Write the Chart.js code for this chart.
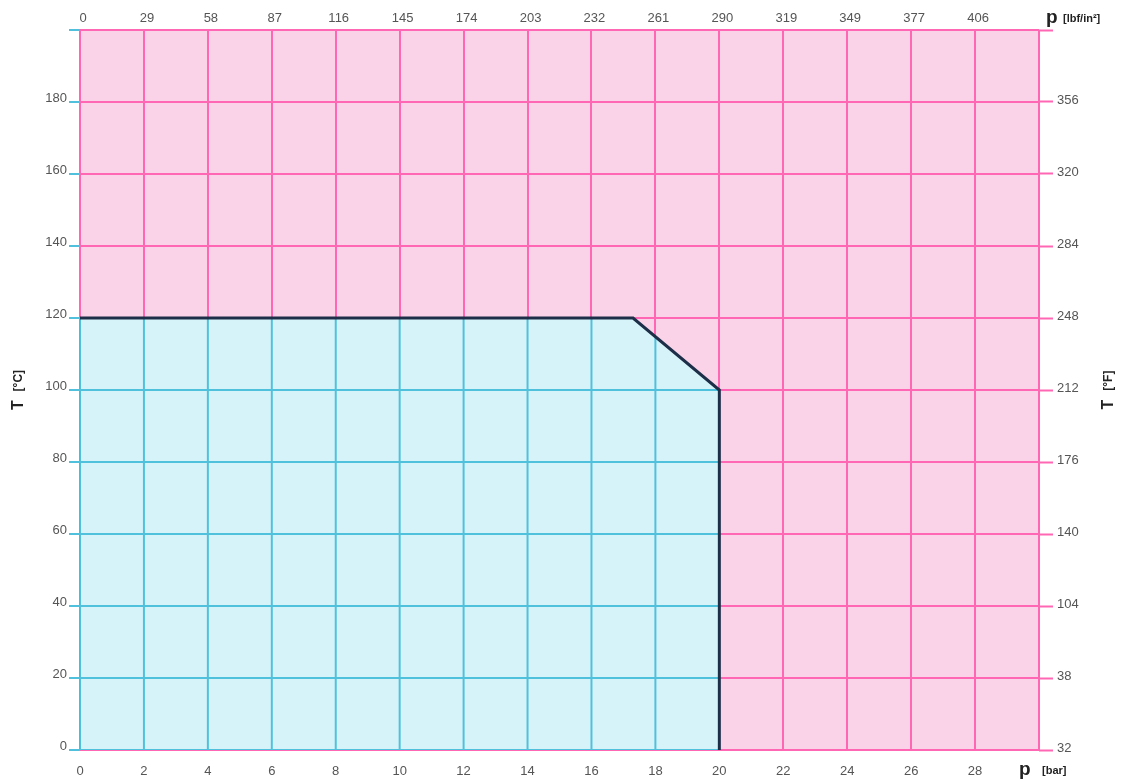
<!DOCTYPE html>
<html>
<head>
<meta charset="utf-8">
<script src="https://cdn.jsdelivr.net/npm/chart.js@4.4.1/dist/chart.umd.min.js"></script>
<style>
  html, body { margin: 0; padding: 0; background: #fff; }
  #wrap { width: 1126px; height: 780px; }
</style>
</head>
<body>
<div id="wrap"><canvas id="chart"></canvas></div>
<script>
// ---------- Data ----------
const pressureBar = [0, 17.3, 20, 20];          // boundary of operating range
const tempC       = [120, 120, 100, 0];
const psiLabels   = ['0','29','58','87','116','145','174','203','232','261','290','319','349','377','406'];
const fLabels     = ['32','38','104','140','176','212','248','284','320','356'];

const PINK_FILL = '#fad3e8', PINK_GRID = '#ff66b3';
const BLUE_FILL = '#d7f3fa', BLUE_GRID = '#4fc1dc';
const EDGE = '#1d2f48';
const FONT = "'Liberation Sans', Arial, sans-serif";

const boundary = pressureBar.map((x, i) => ({ x, y: tempC[i] }));

// pink background of the whole plot
const bgPlugin = {
  id: 'bg',
  beforeDraw(c) {
    const a = c.chartArea, ctx = c.ctx;
    ctx.save();
    ctx.fillStyle = PINK_FILL;
    ctx.fillRect(a.left, a.top, a.right - a.left, a.bottom - a.top);
    ctx.restore();
  }
};

// blue grid inside the allowed region (drawn right after the fill dataset)
const blueGrid = {
  id: 'blueGrid',
  afterDatasetDraw(c, args) {
    if (args.index !== 1) return;
    const x = c.scales.x, y = c.scales.y, ctx = c.ctx;
    ctx.save();
    ctx.beginPath();
    boundary.forEach((p, i) => {
      const px = x.getPixelForValue(p.x), py = y.getPixelForValue(p.y);
      i ? ctx.lineTo(px, py) : ctx.moveTo(px, py);
    });
    ctx.lineTo(x.getPixelForValue(0), y.getPixelForValue(0));
    ctx.closePath();
    ctx.clip();
    ctx.strokeStyle = BLUE_GRID;
    ctx.lineWidth = 2;
    ctx.beginPath();
    x.ticks.forEach(t => {
      const px = x.getPixelForValue(t.value);
      ctx.moveTo(px, c.chartArea.top); ctx.lineTo(px, c.chartArea.bottom);
    });
    y.ticks.forEach(t => {
      const py = y.getPixelForValue(t.value);
      ctx.moveTo(c.chartArea.left, py); ctx.lineTo(c.chartArea.right, py);
    });
    ctx.stroke();
    ctx.restore();
  }
};

// axis titles and unit labels
const labels = {
  id: 'labels',
  afterDraw(c) {
    const ctx = c.ctx, a = c.chartArea;
    const x30 = c.scales.x.getPixelForValue(30);
    const midY = (a.top + a.bottom) / 2;
    ctx.save();
    ctx.fillStyle = '#222';
    ctx.textBaseline = 'middle';

    const rotTitle = (cx, unit) => {
      ctx.save();
      ctx.translate(cx, midY);
      ctx.rotate(-Math.PI / 2);
      ctx.font = 'bold 16px ' + FONT;
      const w1 = ctx.measureText('T  ').width;
      ctx.font = 'bold 12px ' + FONT;
      const w2 = ctx.measureText(unit).width;
      const start = -(w1 + w2) / 2;
      ctx.textAlign = 'left';
      ctx.font = 'bold 16px ' + FONT;
      ctx.fillText('T', start, 0);
      ctx.font = 'bold 12px ' + FONT;
      ctx.fillText(unit, start + w1, 0);
      ctx.restore();
    };
    rotTitle(19, '[°C]');
    rotTitle(1109, '[°F]');

    ctx.textAlign = 'left';
    ctx.font = 'bold 19px ' + FONT;
    ctx.fillText('p', x30 - 20, a.bottom + 20);
    ctx.fillText('p', x30 + 7, a.top - 12);
    ctx.font = 'bold 11px ' + FONT;
    ctx.fillText('[bar]', x30 + 3, a.bottom + 21);
    ctx.fillText('[lbf/in²]', x30 + 24, a.top - 11);
    ctx.restore();
  }
};

const tickFont = { family: FONT, size: 13 };
const fixSize = (prop, v) => s => { s[prop] = v; };

new Chart(document.getElementById('chart'), {
  type: 'line',
  data: {
    datasets: [
      { data: boundary, borderColor: EDGE, borderWidth: 3, pointRadius: 0, fill: false, tension: 0 },
      { data: boundary, borderWidth: 0, borderColor: 'transparent', backgroundColor: BLUE_FILL, pointRadius: 0, fill: 'origin', tension: 0 }
    ]
  },
  options: {
    responsive: true,
    maintainAspectRatio: false,
    animation: false,
    layout: { padding: 0 },
    plugins: { legend: { display: false }, tooltip: { enabled: false } },
    scales: {
      x: {
        type: 'linear', position: 'bottom', min: 0, max: 30,
        afterFit: fixSize('height', 30),
        border: { display: false },
        grid: { color: PINK_GRID, lineWidth: 2, drawTicks: false },
        ticks: { stepSize: 2, autoSkip: false, maxRotation: 0, padding: 14, color: '#555', font: tickFont,
                 callback: v => v === 30 ? '' : v }
      },
      x2: {
        type: 'linear', position: 'top', min: 0, max: 30,
        afterFit: fixSize('height', 30),
        border: { display: false },
        grid: { drawOnChartArea: false, drawTicks: false },
        ticks: { stepSize: 2, autoSkip: false, maxRotation: 0, padding: 4, labelOffset: 3, color: '#555', font: tickFont,
                 callback: (v, i) => psiLabels[i] ?? '' }
      },
      y: {
        type: 'linear', position: 'left', min: 0, max: 200,
        afterFit: fixSize('width', 80),
        border: { display: false },
        grid: { color: PINK_GRID, lineWidth: 2, tickColor: BLUE_GRID, tickLength: 11, tickWidth: 2 },
        ticks: { stepSize: 20, autoSkip: false, padding: 2, labelOffset: -4, color: '#555', font: tickFont,
                 callback: v => v === 200 ? '' : v }
      },
      y2: {
        type: 'linear', position: 'right', min: 0, max: 200,
        afterFit: fixSize('width', 87),
        border: { display: false },
        grid: { drawOnChartArea: false, tickColor: PINK_GRID, tickLength: 14, tickWidth: 2 },
        ticks: { stepSize: 20, autoSkip: false, padding: 4, labelOffset: -2, color: '#555', font: tickFont,
                 callback: (v, i) => fLabels[i] ?? '' }
      }
    }
  },
  plugins: [bgPlugin, blueGrid, labels]
});
</script>
</body>
</html>
